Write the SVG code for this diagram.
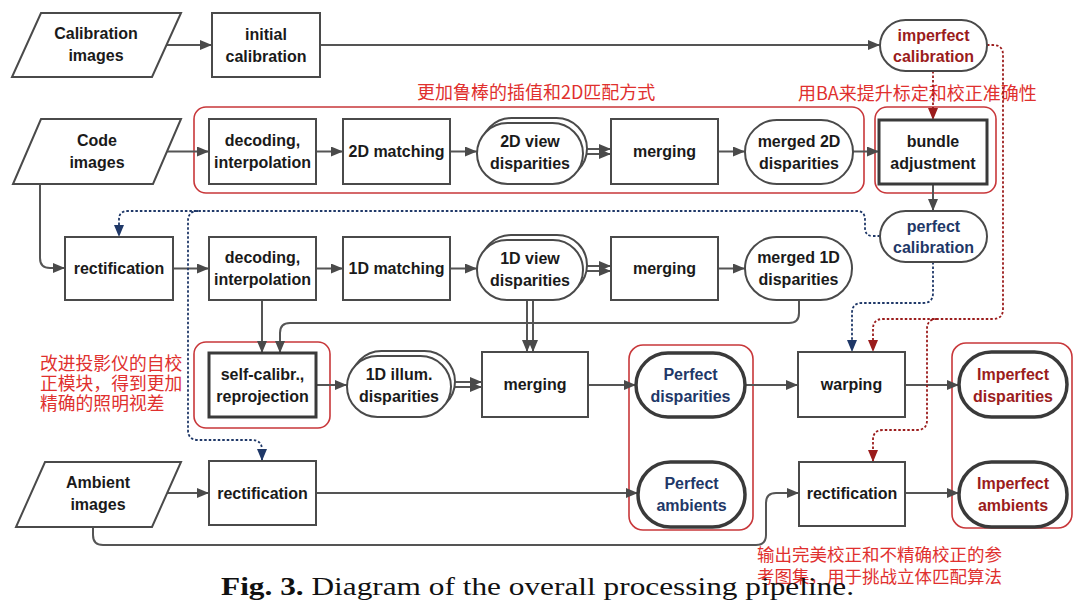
<svg xmlns="http://www.w3.org/2000/svg" width="1080" height="608" viewBox="0 0 1080 608">
<defs>
<style>
.n{fill:#fff;stroke:#4a4a4a;stroke-width:2}
.nt{fill:#fff;stroke:#3a3a3a;stroke-width:3.5}
.nb{fill:#fff;stroke:#3a3a3a;stroke-width:3}
.t{font-family:"Liberation Sans",Arial,sans-serif;font-weight:bold;font-size:16px;fill:#1a1a1a;text-anchor:middle}
.tr{fill:#9b1c1c}
.tb{fill:#1f3868}
.c{fill:none;stroke:#555;stroke-width:2}
.db{fill:none;stroke:#1f3868;stroke-width:1.8;stroke-dasharray:2.5 2}
.dr{fill:none;stroke:#9b1c1c;stroke-width:1.8;stroke-dasharray:2.5 2}
.rb{fill:none;stroke:#c8373a;stroke-width:1.6}
.cn{font-family:"Noto Sans CJK SC",sans-serif;font-size:18px;fill:#e0302e}
</style>
<marker id="ah" viewBox="0 0 12 10" refX="12" refY="5" markerWidth="12" markerHeight="10" markerUnits="userSpaceOnUse" orient="auto"><path d="M0,0 L12,5 L0,10 z" fill="#4a4a4a"/></marker>
<marker id="ab" viewBox="0 0 12 10" refX="12" refY="5" markerWidth="12" markerHeight="10" markerUnits="userSpaceOnUse" orient="auto"><path d="M0,0 L12,5 L0,10 z" fill="#1f3868"/></marker>
<marker id="ar" viewBox="0 0 12 10" refX="12" refY="5" markerWidth="12" markerHeight="10" markerUnits="userSpaceOnUse" orient="auto"><path d="M0,0 L12,5 L0,10 z" fill="#9b1c1c"/></marker>
</defs>
<rect width="1080" height="608" fill="#fff"/>

<g id="annotations">
<rect class="rb" x="194" y="107" width="670" height="86" rx="12"/>
<rect class="rb" x="875" y="107" width="121" height="86" rx="12"/>
<rect class="rb" x="194" y="342" width="136" height="86" rx="12"/>
<rect class="rb" x="629" y="345" width="124" height="185" rx="14"/>
<rect class="rb" x="952" y="343" width="120" height="185" rx="14"/>
<text class="cn" x="417" y="99">更加鲁棒的插值和2D匹配方式</text>
<text class="cn" x="798" y="100">用BA来提升标定和校正准确性</text>
<text class="cn" x="40" y="369.5" style="font-size:17.8px">改进投影仪的自校</text>
<text class="cn" x="40" y="389.5" style="font-size:17.8px">正模块，得到更加</text>
<text class="cn" x="40" y="409.5" style="font-size:17.8px">精确的照明视差</text>
<text class="cn" x="757" y="561" style="font-size:17.5px">输出完美校正和不精确校正的参</text>
<text class="cn" x="757" y="583" style="font-size:17.5px">考图集，用于挑战立体匹配算法</text>
</g>

<g id="connectors">
<line class="c" x1="166" y1="45" x2="212" y2="45" marker-end="url(#ah)"/>
<line class="c" x1="320" y1="45" x2="880" y2="45" marker-end="url(#ah)"/>
<line class="c" x1="167" y1="151.5" x2="209" y2="151.5" marker-end="url(#ah)"/>
<line class="c" x1="316" y1="151.5" x2="343" y2="151.5" marker-end="url(#ah)"/>
<line class="c" x1="450" y1="151.5" x2="477" y2="151.5" marker-end="url(#ah)"/>
<line class="c" x1="585" y1="149" x2="611" y2="149" marker-end="url(#ah)"/>
<line class="c" x1="583" y1="154" x2="611" y2="154" marker-end="url(#ah)"/>
<line class="c" x1="718" y1="151.5" x2="745" y2="151.5" marker-end="url(#ah)"/>
<line class="c" x1="853" y1="151.5" x2="879" y2="151.5" marker-end="url(#ah)"/>
<line class="c" x1="933" y1="184" x2="933" y2="211" marker-end="url(#ah)"/>
<path class="c" d="M40,184 V258 Q40,268 50,268 H65" marker-end="url(#ah)"/>
<line class="c" x1="173" y1="268.5" x2="209" y2="268.5" marker-end="url(#ah)"/>
<line class="c" x1="316" y1="268.5" x2="343" y2="268.5" marker-end="url(#ah)"/>
<line class="c" x1="450" y1="268.5" x2="477" y2="268.5" marker-end="url(#ah)"/>
<line class="c" x1="585" y1="266" x2="611" y2="266" marker-end="url(#ah)"/>
<line class="c" x1="583" y1="271" x2="611" y2="271" marker-end="url(#ah)"/>
<line class="c" x1="718" y1="268.5" x2="745" y2="268.5" marker-end="url(#ah)"/>
<path class="c" d="M799,300 V313 Q799,323 789,323 H290 Q280,323 280,333 V353" marker-end="url(#ah)"/>
<line class="c" x1="262" y1="300" x2="262" y2="353" marker-end="url(#ah)"/>
<line class="c" x1="527" y1="300" x2="527" y2="352" marker-end="url(#ah)"/>
<line class="c" x1="533" y1="300" x2="533" y2="352" marker-end="url(#ah)"/>
<line class="c" x1="316" y1="385" x2="347" y2="385" marker-end="url(#ah)"/>
<line class="c" x1="455" y1="382" x2="482" y2="382" marker-end="url(#ah)"/>
<line class="c" x1="451" y1="387" x2="482" y2="387" marker-end="url(#ah)"/>
<line class="c" x1="588" y1="385" x2="636" y2="385" marker-end="url(#ah)"/>
<line class="c" x1="745" y1="385" x2="798" y2="385" marker-end="url(#ah)"/>
<line class="c" x1="905" y1="385" x2="959" y2="385" marker-end="url(#ah)"/>
<line class="c" x1="162" y1="493" x2="209" y2="493" marker-end="url(#ah)"/>
<line class="c" x1="316" y1="493" x2="638" y2="493" marker-end="url(#ah)"/>
<path class="c" d="M93,527 V535 Q93,545 103,545 H756 Q766,545 766,535 V503 Q766,493 776,493 H799" marker-end="url(#ah)"/>
<line class="c" x1="905" y1="493" x2="959" y2="493" marker-end="url(#ah)"/>
<path class="db" d="M880,236 H873 Q865,236 865,228 V220 Q865,211 857,211 H128 Q119,211 119,219 V237" marker-end="url(#ab)"/>
<path class="db" d="M198,211 Q188,211 188,221 V430 Q188,440 198,440 H252 Q262,440 262,450 V461" marker-end="url(#ab)"/>
<path class="db" d="M933,262 V293 Q933,303 923,303 H862 Q852,303 852,313 V352" marker-end="url(#ab)"/>
<path class="dr" d="M987,45 H993 Q1003,45 1003,55 V309 Q1003,319 993,319 H883 Q873,319 873,329 V352" marker-end="url(#ar)"/>
<path class="dr" d="M937,319 Q927,319 927,329 V420 Q927,430 917,430 H883 Q873,430 873,440 V462" marker-end="url(#ar)"/>
<line class="dr" x1="933" y1="71" x2="933" y2="120" marker-end="url(#ar)"/>
</g>

<g id="calibration-images"><polygon class="n" points="41,13 181,13 152,77 12,77"/><text class="t" x="96" y="39">Calibration</text><text class="t" x="96" y="61">images</text></g>
<g id="initial-calibration"><rect class="n" x="212" y="13" width="108" height="64"/><text class="t" x="266" y="40">initial</text><text class="t" x="266" y="62">calibration</text></g>
<g id="imperfect-calibration"><rect class="n" x="880" y="20" width="107" height="51" rx="25.5"/><text class="t tr" x="933.5" y="41">imperfect</text><text class="t tr" x="933.5" y="62">calibration</text></g>

<g id="code-images"><polygon class="n" points="41,119 181,119 153,184 13,184"/><text class="t" x="97" y="146">Code</text><text class="t" x="97" y="168">images</text></g>
<g id="decoding-2d"><rect class="n" x="209" y="119" width="107" height="65"/><text class="t" x="262.5" y="146">decoding,</text><text class="t" x="262.5" y="168">interpolation</text></g>
<g id="matching-2d"><rect class="n" x="343" y="119" width="107" height="65"/><text class="t" x="396.5" y="157">2D matching</text></g>
<g id="view-disparities-2d"><rect class="n" x="481" y="118" width="106" height="61" rx="30.5"/><rect class="n" x="477" y="123" width="106" height="61" rx="30.5"/><text class="t" x="530" y="147">2D view</text><text class="t" x="530" y="169">disparities</text></g>
<g id="merging-2d"><rect class="n" x="611" y="119" width="107" height="65"/><text class="t" x="664.5" y="157">merging</text></g>
<g id="merged-2d"><rect class="n" x="745" y="120" width="108" height="64" rx="32"/><text class="t" x="799" y="147">merged 2D</text><text class="t" x="799" y="169">disparities</text></g>
<g id="bundle-adjustment"><rect class="nb" x="879" y="120" width="108" height="64"/><text class="t" x="933" y="147">bundle</text><text class="t" x="933" y="169">adjustment</text></g>

<g id="perfect-calibration"><rect class="n" x="880" y="211" width="107" height="51" rx="25.5"/><text class="t tb" x="933.5" y="232">perfect</text><text class="t tb" x="933.5" y="253">calibration</text></g>
<g id="rectification-code"><rect class="n" x="65" y="237" width="108" height="63"/><text class="t" x="119" y="274">rectification</text></g>
<g id="decoding-1d"><rect class="n" x="209" y="237" width="107" height="63"/><text class="t" x="262.5" y="263">decoding,</text><text class="t" x="262.5" y="285">interpolation</text></g>
<g id="matching-1d"><rect class="n" x="343" y="237" width="107" height="63"/><text class="t" x="396.5" y="274">1D matching</text></g>
<g id="view-disparities-1d"><rect class="n" x="481" y="235" width="106" height="60" rx="30"/><rect class="n" x="477" y="240" width="106" height="60" rx="30"/><text class="t" x="530" y="264">1D view</text><text class="t" x="530" y="286">disparities</text></g>
<g id="merging-1d"><rect class="n" x="611" y="237" width="107" height="63"/><text class="t" x="664.5" y="274">merging</text></g>
<g id="merged-1d"><rect class="n" x="745" y="237" width="107" height="63" rx="31.5"/><text class="t" x="798.5" y="263">merged 1D</text><text class="t" x="798.5" y="285">disparities</text></g>

<g id="self-calibration"><rect class="nb" x="209" y="353" width="107" height="64"/><text class="t" x="262.5" y="380">self-calibr.,</text><text class="t" x="262.5" y="402">reprojection</text></g>
<g id="illum-disparities"><rect class="n" x="351" y="351" width="104" height="61" rx="30.5"/><rect class="n" x="347" y="356" width="104" height="61" rx="30.5"/><text class="t" x="399" y="380">1D illum.</text><text class="t" x="399" y="402">disparities</text></g>
<g id="merging-final"><rect class="n" x="482" y="352" width="106" height="65"/><text class="t" x="535" y="390">merging</text></g>
<g id="perfect-disparities"><rect class="nt" x="636" y="353" width="109" height="64" rx="32"/><text class="t tb" x="690.5" y="380">Perfect</text><text class="t tb" x="690.5" y="402">disparities</text></g>
<g id="warping"><rect class="n" x="798" y="352" width="107" height="65"/><text class="t" x="851.5" y="390">warping</text></g>
<g id="imperfect-disparities"><rect class="nt" x="959" y="352" width="108" height="65" rx="32.5"/><text class="t tr" x="1013" y="380">Imperfect</text><text class="t tr" x="1013" y="402">disparities</text></g>

<g id="ambient-images"><polygon class="n" points="45,462 181,462 152,527 16,527"/><text class="t" x="98" y="488">Ambient</text><text class="t" x="98" y="510">images</text></g>
<g id="rectification-ambient"><rect class="n" x="209" y="461" width="107" height="64"/><text class="t" x="262.5" y="499">rectification</text></g>
<g id="perfect-ambients"><rect class="nt" x="638" y="462" width="107" height="65" rx="32.5"/><text class="t tb" x="691.5" y="489">Perfect</text><text class="t tb" x="691.5" y="511">ambients</text></g>
<g id="rectification-imperfect"><rect class="n" x="799" y="462" width="106" height="64"/><text class="t" x="852" y="499">rectification</text></g>
<g id="imperfect-ambients"><rect class="nt" x="959" y="462" width="108" height="65" rx="32.5"/><text class="t tr" x="1013" y="489">Imperfect</text><text class="t tr" x="1013" y="511">ambients</text></g>

<text x="221" y="595" font-family="'Liberation Serif','Times New Roman',serif" font-size="26" fill="#111" textLength="633" lengthAdjust="spacingAndGlyphs"><tspan font-weight="bold">Fig. 3.</tspan> Diagram of the overall processing pipeline.</text>
</svg>
